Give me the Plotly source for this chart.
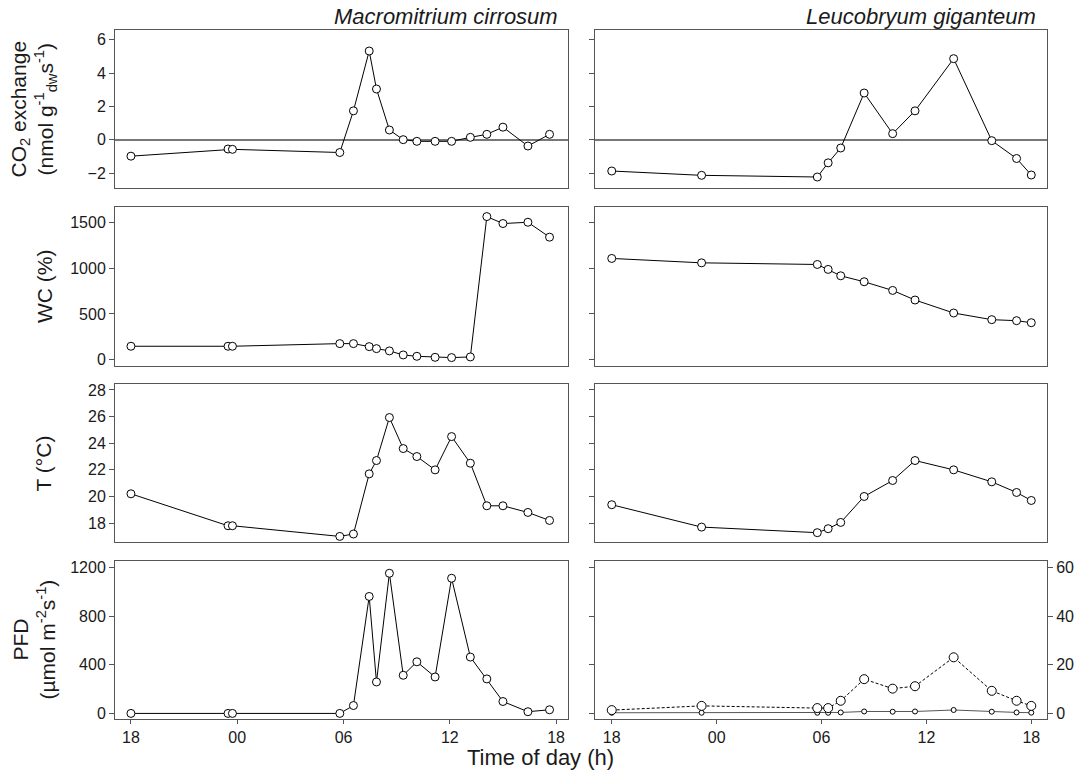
import plotly.graph_objects as go

# ---- data: hours since 18:00 ----
hours_m = [0, 5.48, 5.73, 11.79, 12.56, 13.45, 13.86, 14.59, 15.37, 16.14, 17.17, 18.10, 19.16, 20.09, 21.0, 22.41, 23.63]
co2_m = [-0.99, -0.56, -0.58, -0.77, 1.73, 5.32, 3.04, 0.58, 0.0, -0.1, -0.1, -0.1, 0.14, 0.32, 0.75, -0.38, 0.32]
wc_m = [146, 146, 146, 175, 175, 142, 120, 95, 51, 36, 25, 22, 29, 1565, 1489, 1503, 1340]
t_m = [20.2, 17.8, 17.8, 17.0, 17.18, 21.7, 22.7, 25.93, 23.6, 23.0, 22.0, 24.5, 22.5, 19.3, 19.3, 18.8, 18.2]
pfd_m = [0, 0, 0, 0, 65, 963, 259, 1154, 314, 425, 300, 1113, 464, 284, 98, 14, 30]

hours_l = [0.0, 5.14, 11.76, 12.38, 13.10, 14.44, 16.07, 17.35, 19.56, 21.74, 23.16, 24.0]
co2_l = [-1.88, -2.14, -2.24, -1.39, -0.50, 2.80, 0.36, 1.73, 4.86, -0.06, -1.13, -2.12]
wc_l = [1107, 1059, 1041, 987, 917, 852, 757, 652, 510, 437, 426, 404]
t_l = [19.38, 17.7, 17.28, 17.58, 18.05, 20.0, 21.2, 22.7, 22.0, 21.1, 20.3, 19.7]
pfd_l_dash = [1.36, 3.1, 2.2, 2.2, 5.2, 14.1, 10.2, 11.2, 23.1, 9.3, 5.2, 3.1]
pfd_l_solid = [0.27, 0.27, 0.27, 0.27, 0.4, 0.8, 0.7, 0.8, 1.4, 0.7, 0.4, 0.3]

xtick_vals = [0, 6, 12, 18, 24]
xtick_text = ["18", "00", "06", "12", "18"]

species = ["Macromitrium cirrosum", "Leucobryum giganteum"]

FONT = "Liberation Sans, Arial, sans-serif"
LINE = "#555555"
TXT = "#1a1a1a"

W, H = 1086, 777
ML, MR, MT, MB = 115, 33, 30, 58
pw = W - ML - MR
ph = H - MT - MB

def xd(a, b):
    return [(a - ML) / pw, (b - ML) / pw]

def yd(top, bot):
    return [(H - MB - bot) / ph, (H - MB - top) / ph]

def px(x):
    return (x - ML) / pw

def py(y):
    return (H - MB - y) / ph

col_dom = [xd(115, 570.7), xd(597.7, 1053)]
row_dom = [yd(30, 188), yd(207, 366), yd(384, 542), yd(561, 719)]
x_ranges = [[-0.9, 24.66], [-0.98, 24.9]]

fig = go.Figure()

mk = dict(symbol="circle", size=8, color="white", line=dict(width=1, color="black"))

def add(x, y, ax):
    fig.add_trace(go.Scatter(x=x, y=y, xaxis="x" + ax, yaxis="y" + ax, mode="lines+markers",
                             line=dict(color="black", width=1), marker=mk, showlegend=False))

left_series = [co2_m, wc_m, t_m, pfd_m]
right_series = [co2_l, wc_l, t_l]
for r in range(4):
    add(hours_m, left_series[r], str(2 * r + 1) if r > 0 else "")
for r in range(3):
    add(hours_l, right_series[r], str(2 * r + 2))
# right PFD: solid (small markers) and dashed (large markers)
fig.add_trace(go.Scatter(x=hours_l, y=pfd_l_solid, xaxis="x8", yaxis="y8", mode="lines+markers",
                         line=dict(color="#555555", width=1),
                         marker=dict(symbol="circle", size=5, color="white", line=dict(width=1, color="black")),
                         showlegend=False))
fig.add_trace(go.Scatter(x=hours_l, y=pfd_l_dash, xaxis="x8", yaxis="y8", mode="lines+markers",
                         line=dict(color="black", width=1, dash="3px,2px"),
                         marker=dict(symbol="circle", size=9, color="white", line=dict(width=1, color="black")),
                         showlegend=False))

y_ranges = [[-2.9, 6.58], [-70, 1670], [16.58, 28.45], [-46, 1255]]
y_ticks = [[-2, 0, 2, 4, 6], [0, 500, 1000, 1500], [18, 20, 22, 24, 26, 28], [0, 400, 800, 1200]]

tickfont = dict(family=FONT, size=16, color=TXT)
layout = {}
for r in range(4):
    for c in range(2):
        idx = 2 * r + c + 1
        name = "" if idx == 1 else str(idx)
        bottom = (r == 3)
        layout["xaxis" + name] = dict(
            domain=col_dom[c], range=x_ranges[c], anchor="y" + name,
            showline=True, mirror=True, linecolor=LINE, linewidth=1,
            showgrid=False, zeroline=False,
            tickvals=xtick_vals, ticktext=xtick_text,
            ticks="outside" if bottom else "", ticklen=4, tickcolor=LINE,
            showticklabels=bottom, tickfont=tickfont,
        )
        ya = dict(
            domain=row_dom[r], range=y_ranges[r], anchor="x" + name,
            showline=True, mirror=True, linecolor=LINE, linewidth=1,
            showgrid=False, zeroline=(r == 0), zerolinecolor="#777777", zerolinewidth=1.5,
            tickvals=y_ticks[r], ticks="outside", ticklen=5, tickcolor=LINE,
            showticklabels=(c == 0), tickfont=tickfont,
        )
        if r == 3 and c == 1:
            ya.update(range=[y_ranges[3][0] / 20, y_ranges[3][1] / 20], tickvals=[0, 20, 40, 60],
                      side="right", mirror="ticks", showticklabels=True)
        layout["yaxis" + name] = ya

fig.update_layout(**layout)

annotations = []
annotations.append(dict(text="<i>" + species[0] + "</i>", x=px(563), y=py(16),
                        xref="paper", yref="paper", xanchor="right", yanchor="middle", showarrow=False,
                        font=dict(family=FONT, size=22, color=TXT)))
annotations.append(dict(text="<i>" + species[1] + "</i>", x=px(1044), y=py(16),
                        xref="paper", yref="paper", xanchor="right", yanchor="middle", showarrow=False,
                        font=dict(family=FONT, size=22, color=TXT)))
ytitles = [
    ("CO<sub>2</sub> exchange<br>(nmol g<sup>-1</sup><sub>dw</sub>s<sup>-1</sup>)", 33),
    ("WC (%)", 44),
    ("T (°C)", 44),
    ("PFD<br>(µmol m<sup>-2</sup>s<sup>-1</sup>)", 33),
]
for r, (txt, xc) in enumerate(ytitles):
    ymid = (row_dom[r][0] + row_dom[r][1]) / 2
    annotations.append(dict(text=txt, x=px(xc), y=ymid, xref="paper", yref="paper",
                            xanchor="center", yanchor="middle", textangle=-90, showarrow=False,
                            font=dict(family=FONT, size=21, color=TXT)))
annotations.append(dict(text="Time of day (h)", x=px(543), y=py(757),
                        xref="paper", yref="paper", xanchor="center", yanchor="middle", showarrow=False,
                        font=dict(family=FONT, size=22, color=TXT)))

fig.update_layout(width=W, height=H, margin=dict(l=ML, r=MR, t=MT, b=MB),
                  paper_bgcolor="white", plot_bgcolor="white", annotations=annotations,
                  font=dict(family=FONT))

fig.write_html("out.html", config={"displayModeBar": False},
               post_script="document.body.style.margin='0';document.body.style.overflow='hidden';")
